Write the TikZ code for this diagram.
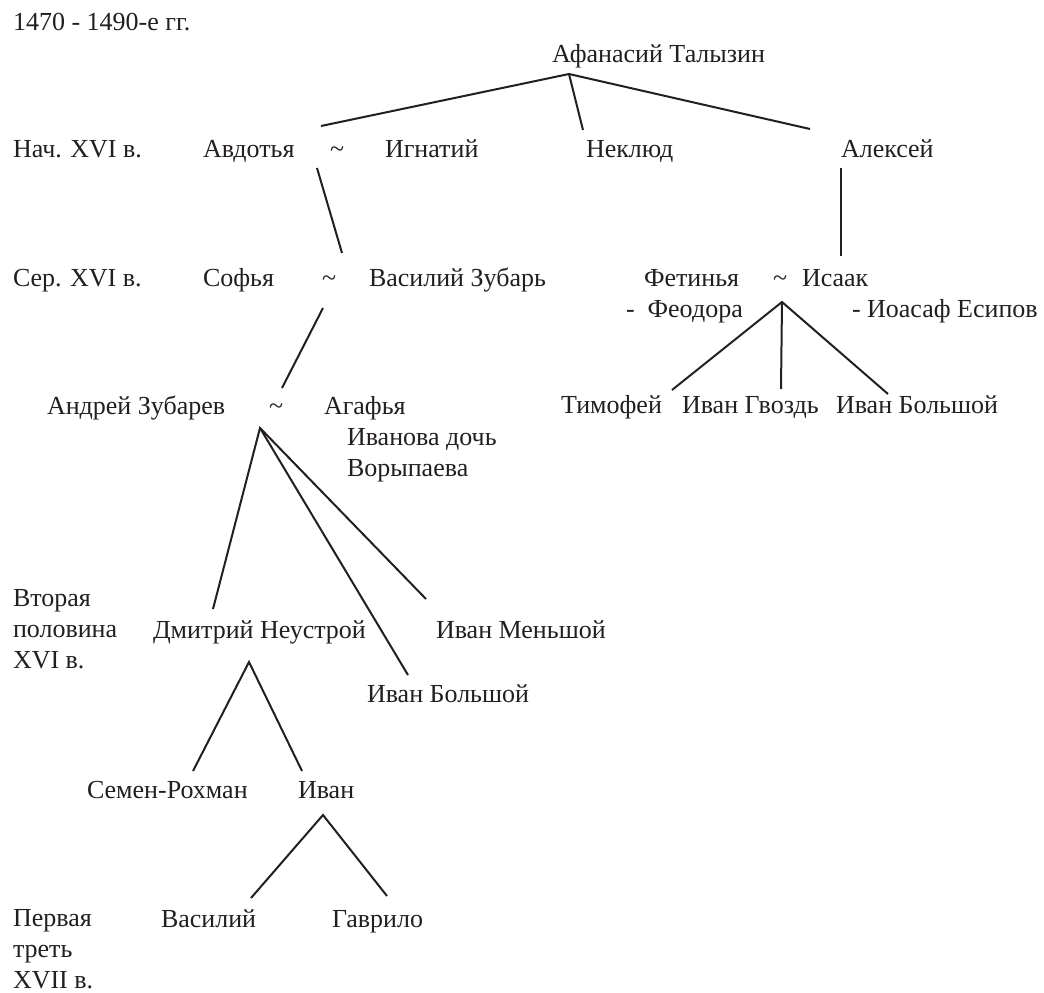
\documentclass[tikz,border=0pt]{standalone}
\usepackage{fontspec}
\setmainfont{Liberation Serif}
\frenchspacing
\definecolor{ink}{HTML}{231F20}
\tikzset{
  lbl/.style={anchor=base west, inner sep=0pt, outer sep=0pt,
              font=\fontsize{26}{31.4}\selectfont, text=ink},
  link/.style={line width=2pt, draw=ink}
}
\begin{document}
\begin{tikzpicture}[x=1pt,y=-1pt]
\useasboundingbox[fill=white] (0,0) rectangle (1044,993);

% period labels
\node[lbl] (p1) at (13,30) {1470 - 1490-е гг.};
\node[lbl] (p2) at (13,157) {Нач.\hspace{2pt} XVI в.};
\node[lbl] (p3) at (13,286) {Сер.\hspace{2pt} XVI в.};
\node[lbl] (p4) at (13,606) {\vtop{\hbox{Вторая}\hbox{половина}\hbox{XVI в.}}};
\node[lbl] (p5) at (13,926) {\vtop{\hbox{Первая}\hbox{треть}\hbox{XVII в.}}};

% people
\node[lbl] (afan) at (552,62) {Афанасий Талызин};
\node[lbl] (avd) at (203,157) {Авдотья};
\node[lbl] (m1) at (330,157) {\textasciitilde};
\node[lbl] (ign) at (385,157) {Игнатий};
\node[lbl] (nekl) at (586,157) {Неклюд};
\node[lbl] (alex) at (841,157) {Алексей};

\node[lbl] (sof) at (203,286) {Софья};
\node[lbl] (m2) at (322,286) {\textasciitilde};
\node[lbl] (vas) at (369,286) {Василий Зубарь};
\node[lbl] (fet) at (644,286) {Фетинья};
\node[lbl] (m3) at (773,286) {\textasciitilde};
\node[lbl] (isaak) at (802,286) {Исаак};
\node[lbl] (feod) at (626,317) {-\hspace{13pt}Феодора};
\node[lbl] (ioas) at (852,317) {- Иоасаф Есипов};

\node[lbl] (tim) at (561,413) {Тимофей};
\node[lbl] (ivg) at (682,413) {Иван Гвоздь};
\node[lbl] (ivb1) at (836,413) {Иван Большой};

\node[lbl] (andr) at (47,414) {Андрей Зубарев};
\node[lbl] (m4) at (269,414) {\textasciitilde};
\node[lbl] (agaf) at (324,414) {Агафья};
\node[lbl] (agaf2) at (347,445) {\vtop{\hbox{Иванова дочь}\hbox{Ворыпаева}}};

\node[lbl] (dmit) at (153,638) {Дмитрий Неустрой};
\node[lbl] (ivm) at (436,638) {Иван Меньшой};
\node[lbl] (ivb2) at (367,702) {Иван Большой};

\node[lbl] (sem) at (87,798) {Семен-Рохман};
\node[lbl] (ivan) at (298,798) {Иван};

\node[lbl] (vasil) at (161,927) {Василий};
\node[lbl] (gavr) at (332,927) {Гаврило};

% connector points
\coordinate (aA) at (569,74);
\coordinate (aAv) at (321,126);
\coordinate (aNe) at (583,130);
\coordinate (aAl) at (810,129);
\coordinate (bTop) at (317,168);
\coordinate (bBot) at (342,253);
\coordinate (cTop) at (841,168);
\coordinate (cBot) at (841,256);
\coordinate (dTop) at (323,308);
\coordinate (dBot) at (282,388);
\coordinate (aI) at (782,302);
\coordinate (aTi) at (672,390);
\coordinate (aIg) at (781,389);
\coordinate (aIb) at (888,394);
\coordinate (aZ) at (260,428);
\coordinate (aDm) at (213,609);
\coordinate (aBo) at (408,675);
\coordinate (aMe) at (426,599);
\coordinate (aD) at (249,662);
\coordinate (aSe) at (193,771);
\coordinate (aIv) at (302,771);
\coordinate (aV) at (323,815);
\coordinate (aVa) at (251,898);
\coordinate (aGa) at (387,896);

% connectors
\draw[link] (aAv) -- (aA) -- (aAl);
\draw[link] (aA) -- (aNe);
\draw[link] (bTop) -- (bBot);
\draw[link] (cTop) -- (cBot);
\draw[link] (dTop) -- (dBot);
\draw[link] (aTi) -- (aI) -- (aIb);
\draw[link] (aI) -- (aIg);
\draw[link] (aDm) -- (aZ) -- (aMe);
\draw[link] (aZ) -- (aBo);
\draw[link] (aSe) -- (aD) -- (aIv);
\draw[link] (aVa) -- (aV) -- (aGa);
\end{tikzpicture}
\end{document}
